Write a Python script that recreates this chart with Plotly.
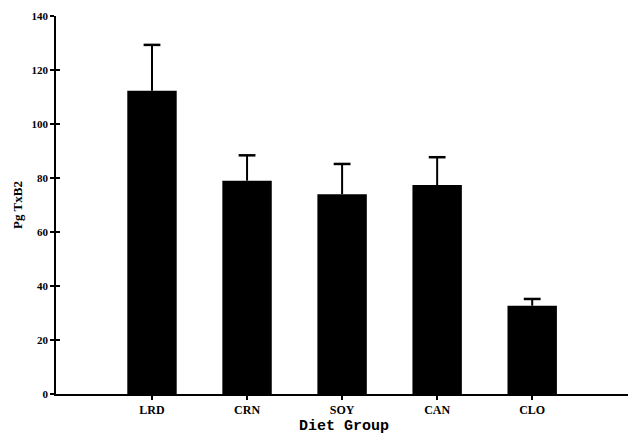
import plotly.graph_objects as go

categories = ["LRD", "CRN", "SOY", "CAN", "CLO"]
means = [112.3, 79.0, 74.0, 77.4, 32.7]
sem = [17.0, 9.4, 11.2, 10.3, 2.5]
y_ticks = [0, 20, 40, 60, 80, 100, 120, 140]

tops = [m + s for m, s in zip(means, sem)]

fig = go.Figure()
fig.add_trace(go.Bar(
    x=categories, y=means, width=0.52,
    marker=dict(color="black", line=dict(width=0)),
    error_y=dict(type="data", array=sem, arrayminus=[0]*len(sem), symmetric=False,
                 color="black", thickness=2, width=0),
    showlegend=False,
))
# caps at top of error bars
fig.add_trace(go.Scatter(
    x=categories, y=tops, mode="markers", showlegend=False, hoverinfo="skip",
    marker=dict(symbol="line-ew-open", size=12, color="black", line=dict(width=2.5, color="black")),
))
# invisible trace on overlay axis for crossing ticks
fig.add_trace(go.Scatter(x=categories, y=means, yaxis="y2", mode="markers",
                         marker=dict(opacity=0), showlegend=False, hoverinfo="skip"))

fig.update_layout(
    width=628, height=427,
    margin=dict(l=48, r=4, t=8, b=41),
    paper_bgcolor="white", plot_bgcolor="white",
    xaxis=dict(
        range=[-1.01, 5.05], showgrid=False, zeroline=False, automargin=False,
        showline=True, linecolor="black", linewidth=1.5,
        ticks="outside", ticklen=4, tickwidth=1.5, tickcolor="black",
        tickfont=dict(family="Liberation Serif", size=12, color="black", weight="bold"),
    ),
    yaxis=dict(
        range=[0, 140], tickvals=y_ticks, showgrid=False, zeroline=False, automargin=False,
        showline=True, linecolor="black", linewidth=1.5,
        ticks="outside", ticklen=4, tickwidth=1.5, tickcolor="black",
        tickfont=dict(family="Liberation Serif", size=11, color="black", weight="bold"),
        title=dict(text="Pg TxB2", standoff=6,
                   font=dict(family="Liberation Serif", size=13, color="black", weight="bold")),
    ),
    yaxis2=dict(
        range=[0, 140], tickvals=y_ticks, overlaying="y", side="left", automargin=False,
        showgrid=False, zeroline=False, showline=False, showticklabels=False,
        ticks="inside", ticklen=4, tickwidth=1.5, tickcolor="black",
    ),
    annotations=[dict(
        text="Diet Group", xref="paper", yref="paper", x=0.5, y=0,
        xanchor="center", yanchor="top", yshift=-22, showarrow=False,
        font=dict(family="Liberation Mono", size=15, color="black", weight="bold"),
    )],
)

fig.write_html("out.html")
